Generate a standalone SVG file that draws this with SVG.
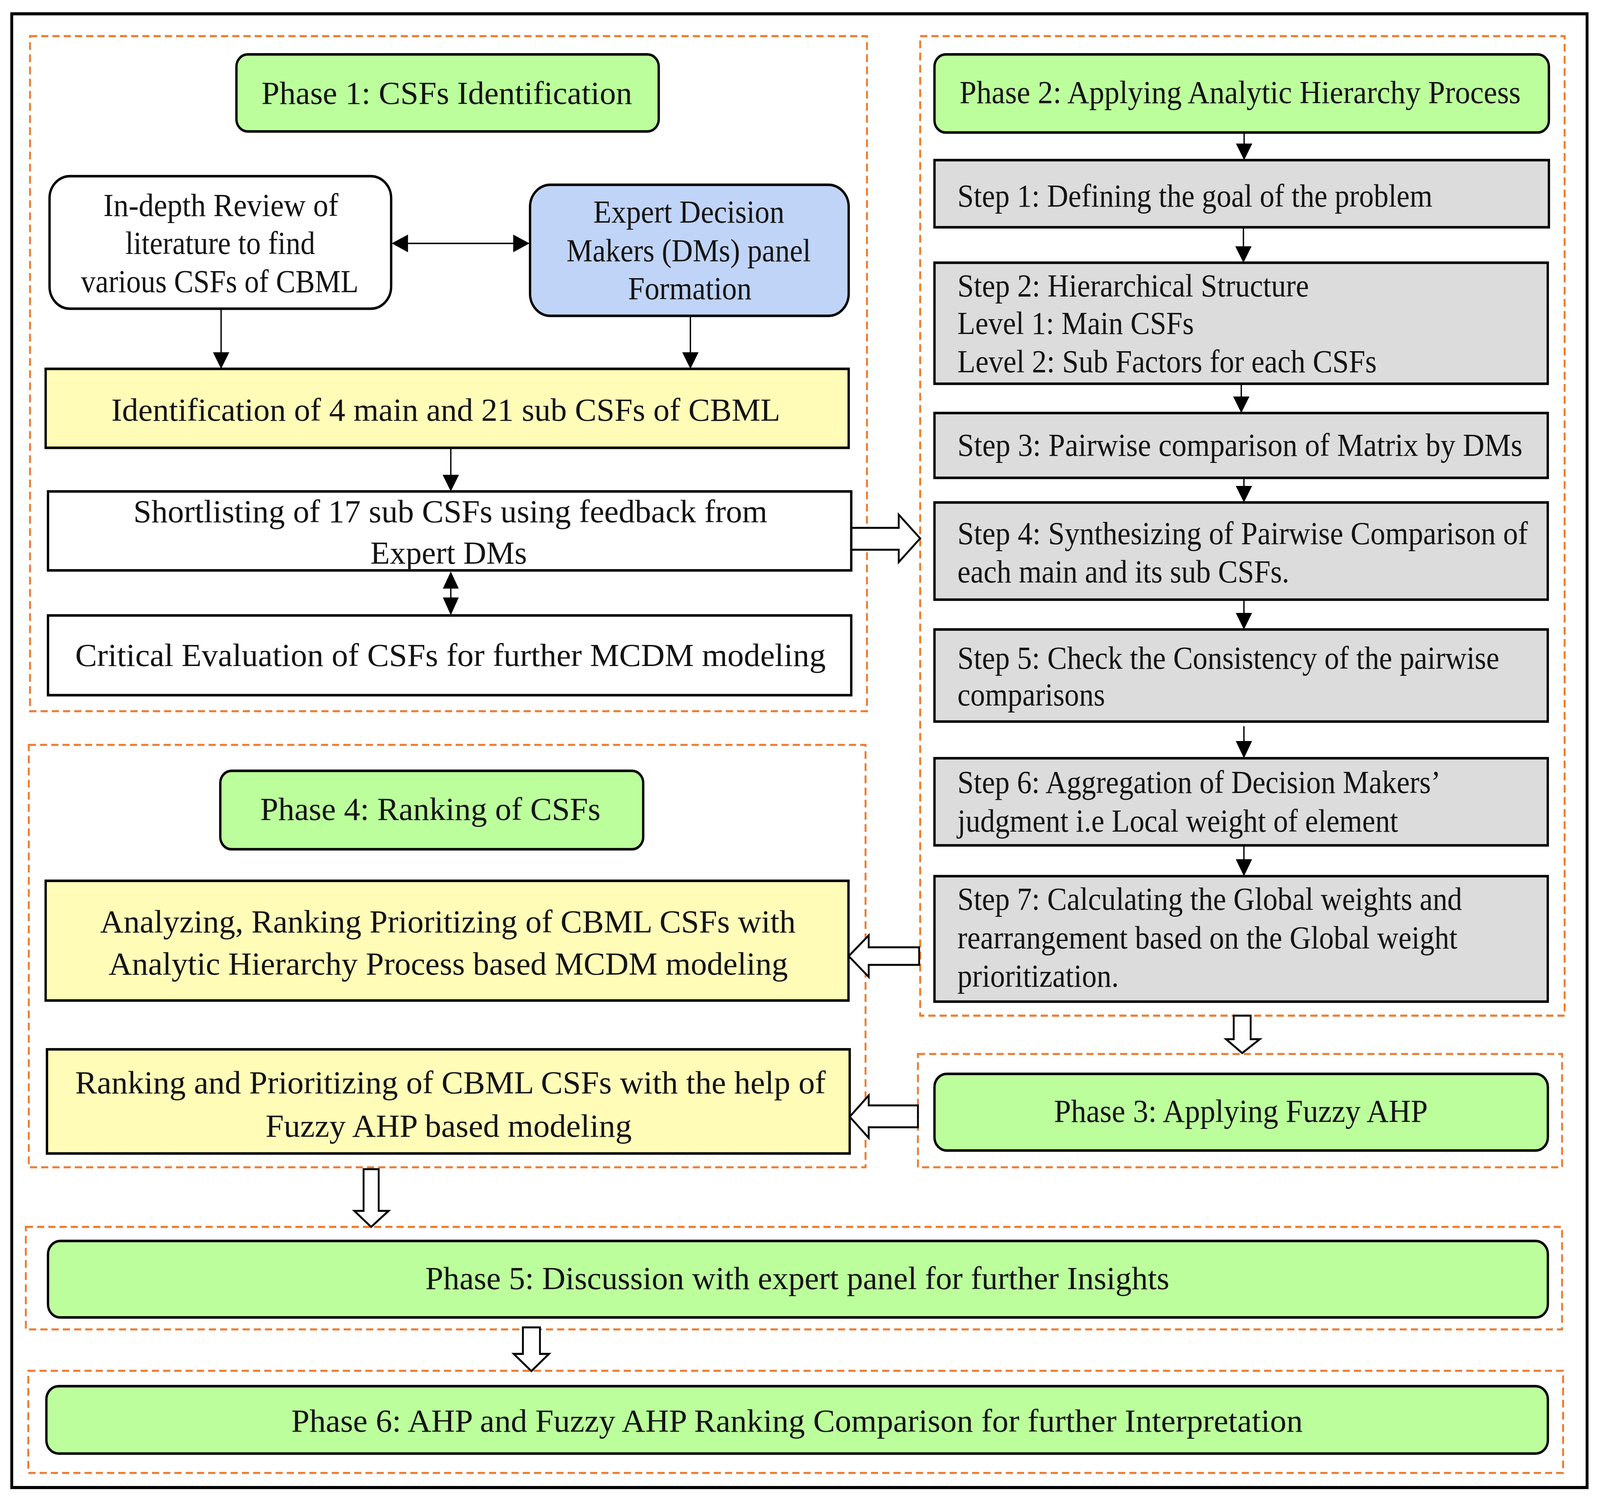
<svg xmlns="http://www.w3.org/2000/svg" width="4421" height="3845" viewBox="0 0 4421 3845">
<defs>
<style>
.t{font-family:"Liberation Serif","Times New Roman",serif;font-size:29px;fill:#141414}
.box{stroke:#000;stroke-width:2.3}
.green{fill:#bcfe9c}
.yellow{fill:#fffcb8}
.blue{fill:#c0d4f7}
.gray{fill:#dcdcdc}
.white{fill:#fff}
.dash{fill:none;stroke:#ed7d31;stroke-width:1.9;stroke-dasharray:7 4}
.ln{stroke:#000;stroke-width:1.3;fill:none}
.hd{fill:#000}
.blk{fill:#fff;stroke:#000;stroke-width:1.8;stroke-linejoin:miter}
</style>
</defs>
<rect x="0" y="0" width="4421" height="3845" fill="#fff"/>
<g transform="scale(2.6145,2.827)">
<rect id="frame" x="11.5" y="12.5" width="1542.5" height="1334.5" fill="none" stroke="#000" stroke-width="2.8"/>

<g id="groups">
<rect x="29.4" y="32.7" width="819.5" height="611.3" class="dash"/>
<rect x="901" y="32.7" width="631" height="887" class="dash"/>
<rect x="898.8" y="954.4" width="630.7" height="102.6" class="dash"/>
<rect x="28.2" y="674.5" width="819.3" height="382.5" class="dash"/>
<rect x="25.3" y="1111" width="1504.2" height="92.8" class="dash"/>
<rect x="27.7" y="1241.3" width="1502.8" height="92.5" class="dash"/>
</g>

<g id="connectors">
<line class="ln" x1="216.5" y1="279.5" x2="216.5" y2="320"/><polygon class="hd" points="208.5,319 224.5,319 216.5,334"/>
<line class="ln" x1="676" y1="286" x2="676" y2="320"/><polygon class="hd" points="668,319 684,319 676,334"/>
<line class="ln" x1="441.4" y1="405.5" x2="441.4" y2="431"/><polygon class="hd" points="433.4,430 449.4,430 441.4,445"/>
<line class="ln" x1="441.4" y1="530" x2="441.4" y2="543"/><polygon class="hd" points="433.6,533 449.2,533 441.4,517.5"/><polygon class="hd" points="433.6,541 449.2,541 441.4,557"/>
<line class="ln" x1="397" y1="220.4" x2="505" y2="220.4"/><polygon class="hd" points="399.5,212.4 399.5,228.4 383.5,220.4"/><polygon class="hd" points="502.5,212.4 502.5,228.4 518.5,220.4"/>
<line class="ln" x1="1218.2" y1="120" x2="1218.2" y2="131"/><polygon class="hd" points="1210.2,130 1226.2,130 1218.2,145"/>
<line class="ln" x1="1217.5" y1="205.8" x2="1217.5" y2="224"/><polygon class="hd" points="1209.5,223 1225.5,223 1217.5,237.9"/>
<line class="ln" x1="1215.4" y1="347.5" x2="1215.4" y2="360"/><polygon class="hd" points="1207.4,359 1223.4,359 1215.4,374"/>
<line class="ln" x1="1218" y1="432.7" x2="1218" y2="441"/><polygon class="hd" points="1210,440 1226,440 1218,455"/>
<line class="ln" x1="1218" y1="543" x2="1218" y2="556"/><polygon class="hd" points="1210,555 1226,555 1218,570"/>
<line class="ln" x1="1218" y1="657.6" x2="1218" y2="672"/><polygon class="hd" points="1210,671 1226,671 1218,686.6"/>
<line class="ln" x1="1218" y1="765.5" x2="1218" y2="779"/><polygon class="hd" points="1210,778 1226,778 1218,793.4"/>
<polygon class="blk" points="833.5,478 880,478 880,466 901,487.5 880,509 880,497.8 833.5,497.8"/>
<polygon class="blk" points="900,857.8 850.6,857.8 850.6,847 831,865.8 850.6,884.6 850.6,873.7 900,873.7"/>
<polygon class="blk" points="898.8,1001 850.6,1001 850.6,992 832,1011.2 850.6,1030.4 850.6,1020.8 898.8,1020.8"/>
<polygon class="blk" points="1208,919.7 1224.6,919.7 1224.6,941 1233.5,941 1216.3,953.6 1200.5,941 1208,941"/>
<polygon class="blk" points="356,1058.7 370.8,1058.7 370.8,1096.5 380.5,1096.5 363.4,1111 347,1096.5 356,1096.5"/>
<polygon class="blk" points="512,1202 528.7,1202 528.7,1226 537.6,1226 520.3,1241.6 503,1226 512,1226"/>
</g>

<g id="phase1">
<rect x="231.5" y="49.3" width="413.5" height="69.7" rx="11" class="box green"/>
<text class="t" x="256" y="94" textLength="363" lengthAdjust="spacingAndGlyphs">Phase 1: CSFs Identification</text>
</g>
<g id="review">
<rect x="48.5" y="159.5" width="334.5" height="120" rx="20" class="box white"/>
<text class="t" x="101.3" y="195.6" textLength="230" lengthAdjust="spacingAndGlyphs">In-depth  Review of</text>
<text class="t" x="122.8" y="230" textLength="185.7" lengthAdjust="spacingAndGlyphs">literature to find</text>
<text class="t" x="79.3" y="264.6" textLength="271.7" lengthAdjust="spacingAndGlyphs">various CSFs of CBML</text>
</g>
<g id="experts">
<rect x="519" y="167.3" width="312" height="118.7" rx="20" class="box blue"/>
<text class="t" x="581" y="201.6" textLength="187" lengthAdjust="spacingAndGlyphs">Expert Decision</text>
<text class="t" x="554.7" y="236.6" textLength="239.3" lengthAdjust="spacingAndGlyphs">Makers  (DMs) panel</text>
<text class="t" x="615" y="271" textLength="121" lengthAdjust="spacingAndGlyphs">Formation</text>
</g>
<g id="identification">
<rect x="44.7" y="334" width="786.3" height="71.5" class="box yellow"/>
<text class="t" x="109" y="381" textLength="655" lengthAdjust="spacingAndGlyphs">Identification of  4 main and 21  sub CSFs of CBML</text>
</g>
<g id="shortlisting">
<rect x="47" y="445" width="786.5" height="71.5" class="box white"/>
<text class="t" x="130.6" y="473" textLength="620.8" lengthAdjust="spacingAndGlyphs">Shortlisting of 17 sub CSFs using feedback from</text>
<text class="t" x="362.7" y="510.5" textLength="153.3" lengthAdjust="spacingAndGlyphs">Expert DMs</text>
</g>
<g id="critical">
<rect x="47" y="557.3" width="786.5" height="72.2" class="box white"/>
<text class="t" x="73.6" y="603" textLength="734.9" lengthAdjust="spacingAndGlyphs">Critical Evaluation of  CSFs for further MCDM  modeling</text>
</g>

<g id="phase2">
<rect x="915" y="49.3" width="601.6" height="70.7" rx="11" class="box green"/>
<text class="t" x="939.6" y="93.3" textLength="549.4" lengthAdjust="spacingAndGlyphs">Phase 2:  Applying  Analytic  Hierarchy  Process</text>
</g>
<g id="step1">
<rect x="915" y="145" width="601.6" height="60.8" class="box gray"/>
<text class="t" x="937.5" y="187" textLength="465.1" lengthAdjust="spacingAndGlyphs">Step  1: Defining the goal of the problem</text>
</g>
<g id="step2">
<rect x="915" y="237.9" width="600.5" height="109.6" class="box gray"/>
<text class="t" x="937.5" y="268.5" textLength="344.1" lengthAdjust="spacingAndGlyphs">Step  2: Hierarchical Structure</text>
<text class="t" x="937.5" y="302.3" textLength="231.5" lengthAdjust="spacingAndGlyphs">Level  1: Main CSFs</text>
<text class="t" x="937.5" y="337" textLength="410.5" lengthAdjust="spacingAndGlyphs">Level  2: Sub Factors for each  CSFs</text>
</g>
<g id="step3">
<rect x="915" y="374" width="600.5" height="58.7" class="box gray"/>
<text class="t" x="937.5" y="412.8" textLength="553.2" lengthAdjust="spacingAndGlyphs">Step  3: Pairwise comparison of Matrix by   DMs</text>
</g>
<g id="step4">
<rect x="915" y="455" width="600.5" height="88" class="box gray"/>
<text class="t" x="937.5" y="492.8" textLength="558.5" lengthAdjust="spacingAndGlyphs">Step  4: Synthesizing  of Pairwise Comparison of</text>
<text class="t" x="937.5" y="527.5" textLength="324.9" lengthAdjust="spacingAndGlyphs">each  main and its sub CSFs.</text>
</g>
<g id="step5">
<rect x="915" y="570" width="600.5" height="83.4" class="box gray"/>
<text class="t" x="937.5" y="605.5" textLength="530.5" lengthAdjust="spacingAndGlyphs">Step  5: Check the Consistency  of the pairwise</text>
<text class="t" x="937.5" y="639" textLength="144.5" lengthAdjust="spacingAndGlyphs">comparisons</text>
</g>
<g id="step6">
<rect x="915" y="686.6" width="600.5" height="78.9" class="box gray"/>
<text class="t" x="937.5" y="718" textLength="473.1" lengthAdjust="spacingAndGlyphs">Step  6: Aggregation  of Decision Makers’</text>
<text class="t" x="937.5" y="753" textLength="431.5" lengthAdjust="spacingAndGlyphs">judgment  i.e Local  weight  of element</text>
</g>
<g id="step7">
<rect x="915" y="793.4" width="600.5" height="113.6" class="box gray"/>
<text class="t" x="937.5" y="824" textLength="494.1" lengthAdjust="spacingAndGlyphs">Step  7: Calculating the Global weights and</text>
<text class="t" x="937.5" y="859" textLength="489.5" lengthAdjust="spacingAndGlyphs">rearrangement  based  on the Global weight</text>
<text class="t" x="937.5" y="893.5" textLength="158" lengthAdjust="spacingAndGlyphs">prioritization.</text>
</g>

<g id="phase3">
<rect x="915" y="972.4" width="600.6" height="69.4" rx="12" class="box green"/>
<text class="t" x="1032" y="1016" textLength="366" lengthAdjust="spacingAndGlyphs">Phase 3:  Applying  Fuzzy  AHP</text>
</g>

<g id="phase4">
<rect x="215.7" y="698" width="414.1" height="71" rx="11" class="box green"/>
<text class="t" x="254.8" y="742.5" textLength="333.2" lengthAdjust="spacingAndGlyphs">Phase 4:  Ranking of CSFs</text>
</g>
<g id="ahp-ranking">
<rect x="44.7" y="797.6" width="786.1" height="108.4" class="box yellow"/>
<text class="t" x="98" y="844.3" textLength="681" lengthAdjust="spacingAndGlyphs">Analyzing,  Ranking Prioritizing of CBML  CSFs with</text>
<text class="t" x="106.3" y="882.5" textLength="665.2" lengthAdjust="spacingAndGlyphs">Analytic  Hierarchy  Process based MCDM  modeling</text>
</g>
<g id="fuzzy-ranking">
<rect x="46" y="950.2" width="786" height="94.3" class="box yellow"/>
<text class="t" x="73.6" y="990" textLength="734.9" lengthAdjust="spacingAndGlyphs">Ranking and Prioritizing of CBML  CSFs with the help of</text>
<text class="t" x="260" y="1029.3" textLength="358.6" lengthAdjust="spacingAndGlyphs">Fuzzy  AHP  based modeling</text>
</g>

<g id="phase5">
<rect x="47" y="1123.7" width="1468.6" height="69.3" rx="12" class="box green"/>
<text class="t" x="416.4" y="1167.3" textLength="728.6" lengthAdjust="spacingAndGlyphs">Phase 5:  Discussion with expert panel for further Insights</text>
</g>
<g id="phase6">
<rect x="45.4" y="1255.2" width="1470.2" height="61" rx="12" class="box green"/>
<text class="t" x="285.2" y="1296.4" textLength="990.4" lengthAdjust="spacingAndGlyphs">Phase 6:  AHP and Fuzzy  AHP  Ranking Comparison for further Interpretation</text>
</g>
</g>
</svg>
